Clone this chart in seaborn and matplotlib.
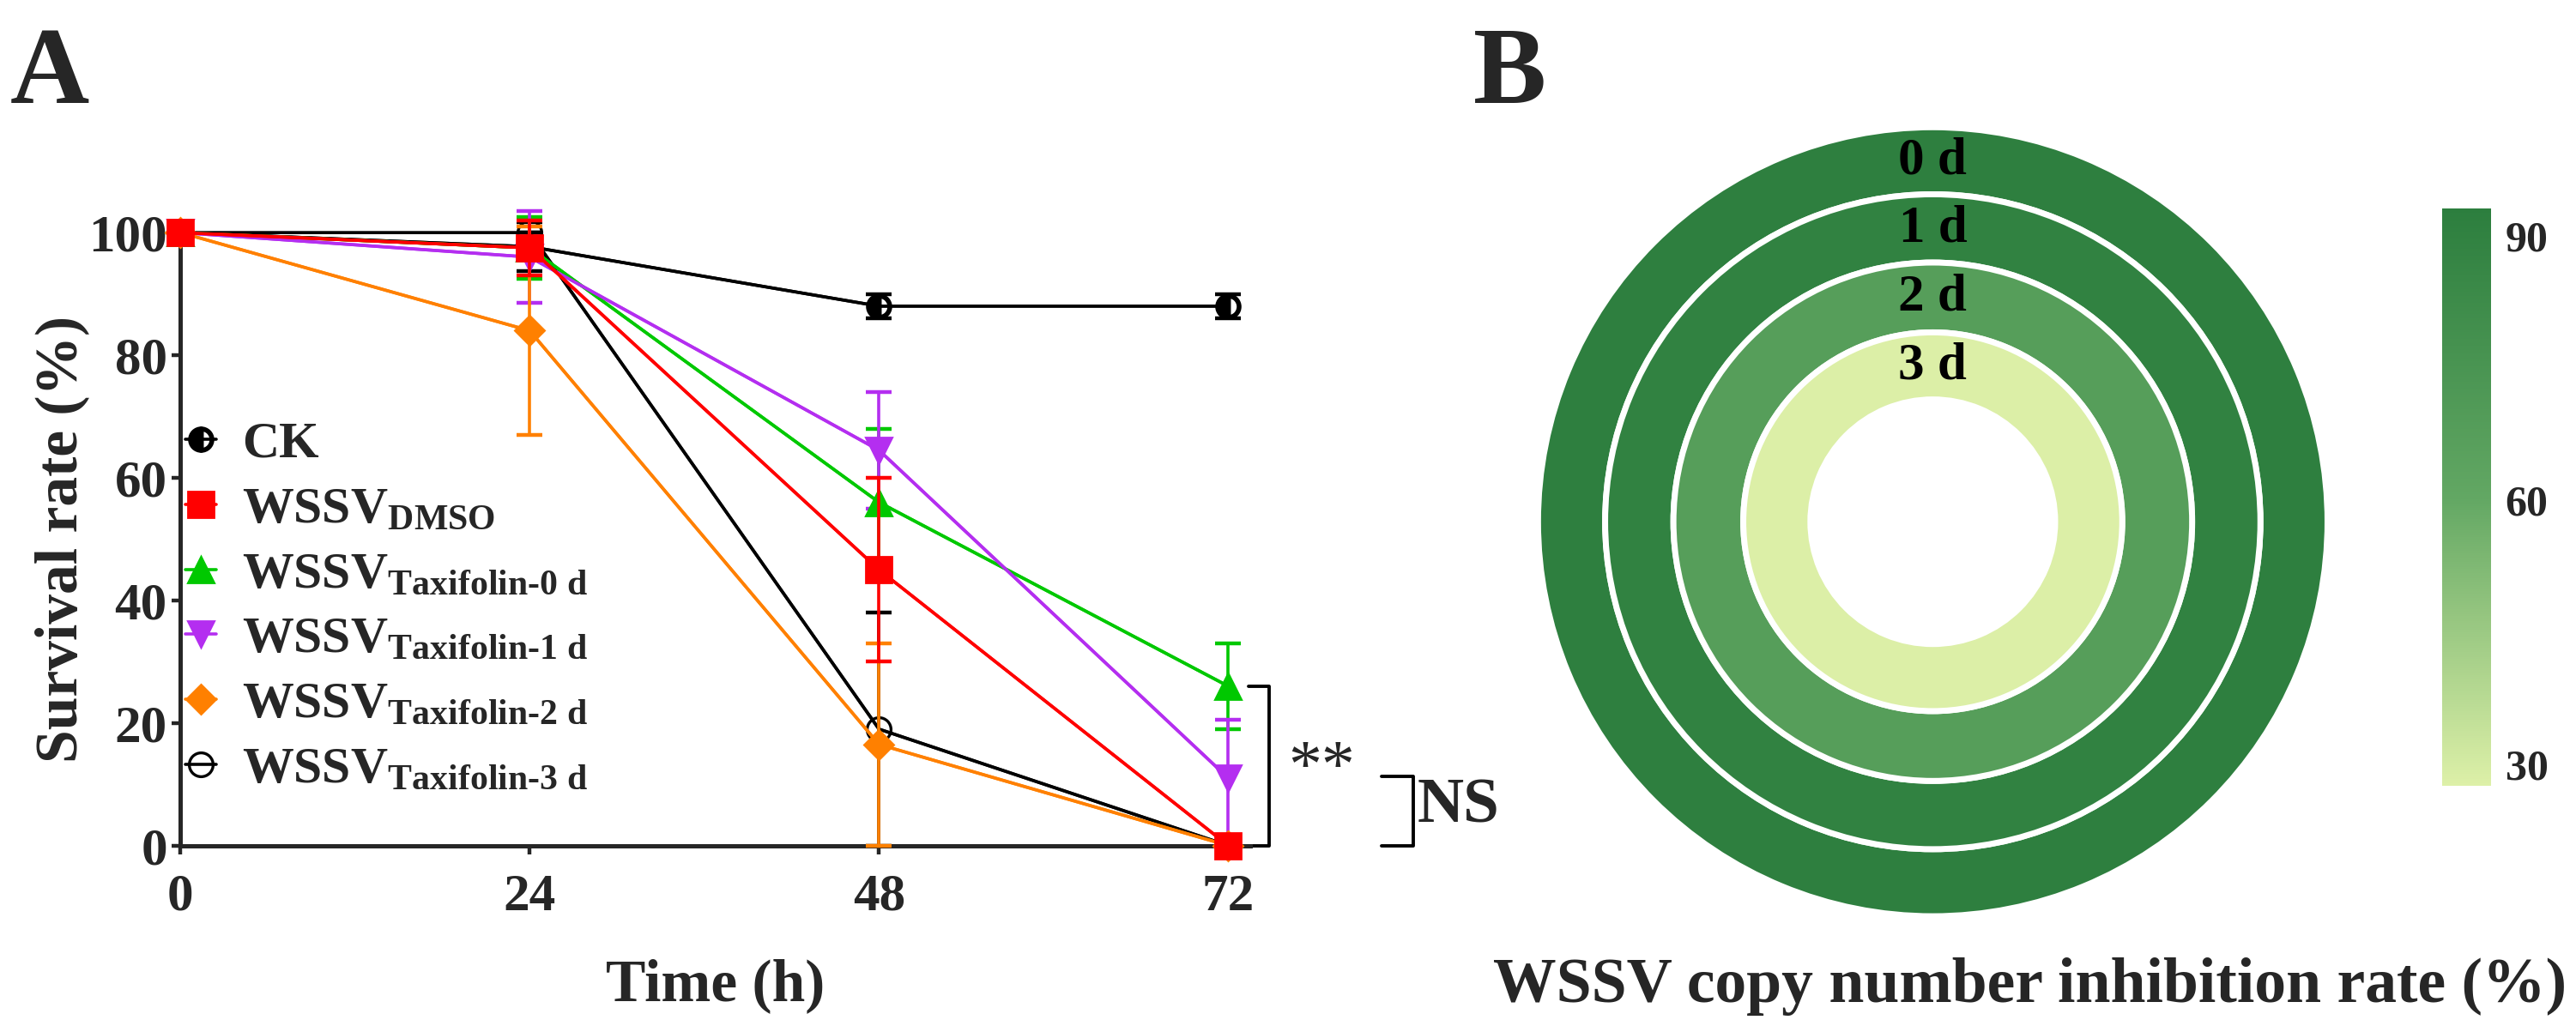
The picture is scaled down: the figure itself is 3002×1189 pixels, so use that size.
import matplotlib
matplotlib.use("Agg")
import pandas as pd
import matplotlib.pyplot as plt
import seaborn as sns
from matplotlib.colors import LinearSegmentedColormap, Normalize
from matplotlib.cm import ScalarMappable

# Panel A data: survival rate (%) at each time point, mean and error
time_h = [0, 24, 48, 72]
groups = ["CK", "DMSO", "Tax0", "Tax1", "Tax2", "Tax3"]
ck_mean = [100, 97.7, 88, 88]
ck_err = [0, 4, 2, 2]
dmso_mean = [100, 97.5, 45, 0]
dmso_err = [0, 4.5, 15, 0]
tax0_mean = [100, 97.5, 56, 26]
tax0_err = [0, 5, 12, 7]
tax1_mean = [100, 96, 64.5, 11]
tax1_err = [0, 7.5, 9.5, 9.5]
tax2_mean = [100, 84, 16.5, 0]
tax2_err = [0, 17, 16.5, 0]
tax3_mean = [100, 100, 19, 0]
tax3_err = [0, 0, 19, 0]

labels = ["CK", "WSSV$_{\\mathbf{DMSO}}$", "WSSV$_{\\mathbf{Taxifolin\\text{-}0\\ d}}$",
          "WSSV$_{\\mathbf{Taxifolin\\text{-}1\\ d}}$", "WSSV$_{\\mathbf{Taxifolin\\text{-}2\\ d}}$",
          "WSSV$_{\\mathbf{Taxifolin\\text{-}3\\ d}}$"]

# Panel B data: WSSV copy number inhibition rate (%)
ring_days = ["0 d", "1 d", "2 d", "3 d"]
inhibition = [92, 90, 68, 28]

sns.set_theme(style="ticks")
plt.rcParams["font.family"] = ["Liberation Serif", "DejaVu Serif"]
plt.rcParams["font.weight"] = "bold"
plt.rcParams["mathtext.fontset"] = "custom"
plt.rcParams["mathtext.rm"] = "Liberation Serif:bold"
plt.rcParams["mathtext.bf"] = "Liberation Serif:bold"
plt.rcParams["mathtext.it"] = "Liberation Serif:bold"

fig = plt.figure(figsize=(15.01, 5.945), dpi=200)

# ---------------- Panel A ----------------
ax = fig.add_axes([0.070, 0.171, 0.4153, 0.601])

means = [ck_mean, dmso_mean, tax0_mean, tax1_mean, tax2_mean, tax3_mean]
errs = [ck_err, dmso_err, tax0_err, tax1_err, tax2_err, tax3_err]
colors = ["black", "#FF0000", "#00C800", "#B42EF0", "#FF8000", "black"]
markers = ["o", "s", "^", "v", "D", "o"]
zorders = [6, 12, 8, 9, 10, 4]

rows = []
for g, m, e in zip(groups, means, errs):
    for t, v, s in zip(time_h, m, e):
        rows.append({"group": g, "time": t, "mean": v, "err": s})
df = pd.DataFrame(rows)

# lines through seaborn
for i, g in enumerate(groups):
    sub = df[df["group"] == g]
    sns.lineplot(data=sub, x="time", y="mean", ax=ax, color=colors[i],
                 linewidth=1.3, legend=False, errorbar=None, zorder=zorders[i] - 1)

# error bars
for i, g in enumerate(groups):
    sub = df[df["group"] == g]
    ax.errorbar(sub["time"], sub["mean"], yerr=sub["err"], fmt="none",
                ecolor=colors[i], elinewidth=1.3, capsize=5.5, capthick=1.6,
                clip_on=False, zorder=zorders[i] - 1)

# markers
handles = []
for i, g in enumerate(groups):
    sub = df[df["group"] == g]
    if i == 0:
        kw = dict(marker="o", markersize=9, markerfacecolor="black",
                  markerfacecoloralt="none", fillstyle="left",
                  markeredgecolor="black", markeredgewidth=2.0)
    elif i == 5:
        kw = dict(marker="o", markersize=10, markerfacecolor="none",
                  markeredgecolor="black", markeredgewidth=1.2)
    else:
        kw = dict(marker=markers[i], markersize=10.5 if i != 4 else 8.5,
                  markerfacecolor=colors[i], markeredgecolor=colors[i])
    h, = ax.plot(sub["time"], sub["mean"], linestyle="-", color=colors[i],
                 linewidth=1.3, clip_on=False, zorder=zorders[i], **kw)
    handles.append(h)

ax.set_xlim(0, 73.5)
ax.set_ylim(0, 100)
ax.set_xticks([0, 24, 48, 72])
ax.set_yticks([0, 20, 40, 60, 80, 100])
ax.tick_params(labelsize=22, width=1.6, length=3.5)
ax.tick_params(axis="x", pad=8)
ax.tick_params(axis="y", pad=2)
for lab in ax.get_xticklabels() + ax.get_yticklabels():
    lab.set_fontweight("bold")
sns.despine(ax=ax)
ax.spines["left"].set_linewidth(1.8)
ax.spines["bottom"].set_linewidth(1.8)
ax.set_xlabel("Time (h)", fontsize=25, fontweight="bold")
ax.set_ylabel("Survival rate (%)", fontsize=25, fontweight="bold")
ax.xaxis.set_label_coords(0.5, -0.229)
ax.yaxis.set_label_coords(-0.111, 0.5)
ax.xaxis.label.set_va("center")
ax.yaxis.label.set_va("center")

leg = ax.legend(handles, labels, loc="upper left", bbox_to_anchor=(0.005, 0.692),
                frameon=False, fontsize=21.5, handlelength=0.6, handletextpad=0.5,
                labelspacing=0.35, borderaxespad=0.0, borderpad=0.0)

# significance brackets
ax.plot([73.4, 74.8, 74.8, 73.4], [26, 26, 0, 0], color="black", lw=1.4, clip_on=False)
ax.text(76.1, 12.4, "**", fontsize=28, ha="left", va="center", fontweight="normal")
ax.plot([82.5, 84.7, 84.7, 82.5], [11.3, 11.3, 0, 0], color="black", lw=1.4, clip_on=False)
ax.text(85.0, 6.3, "NS", fontsize=27, ha="left", va="center", fontweight="bold")

fig.text(0.004, 0.925, "A", fontsize=46, fontweight="bold", ha="left", va="center")
fig.text(0.572, 0.925, "B", fontsize=46, fontweight="bold", ha="left", va="center")

# ---------------- Panel B ----------------
cmap = LinearSegmentedColormap.from_list("greens", ["#DDF0A8", "#62A763", "#2C7E3E"])
norm = Normalize(vmin=27.6, vmax=93.2)

axb = fig.add_axes([0.594, 0.094, 0.3126, 0.789])
radii = [1.0, 0.83, 0.657, 0.48]
hole = 0.31
for k, (day, val) in enumerate(zip(ring_days, inhibition)):
    r = radii[k]
    w = r - (radii[k + 1] if k + 1 < len(radii) else hole)
    axb.pie([1], radius=r, colors=[cmap(norm(val))], startangle=90,
            wedgeprops=dict(width=w, edgecolor="white", linewidth=2.5))
    axb.text(0, r - w / 2, day, ha="center", va="center",
             fontsize=22, fontweight="bold", color="black")
axb.set_aspect("auto")
axb.set_xlim(-1.02, 1.02)
axb.set_ylim(-1.02, 1.02)
axb.axis("off")

cax = fig.add_axes([0.948, 0.230, 0.019, 0.566])
cb = fig.colorbar(ScalarMappable(norm=norm, cmap=cmap), cax=cax)
cb.set_ticks([30, 60, 90])
cb.outline.set_visible(False)
cb.ax.tick_params(length=0, labelsize=18, pad=6)
for lab in cb.ax.get_yticklabels():
    lab.set_fontweight("bold")

fig.text(0.788, 0.033, "WSSV copy number inhibition rate (%)", fontsize=26.5,
         fontweight="bold", ha="center", va="center")

fig.savefig("out.png", dpi=200)
